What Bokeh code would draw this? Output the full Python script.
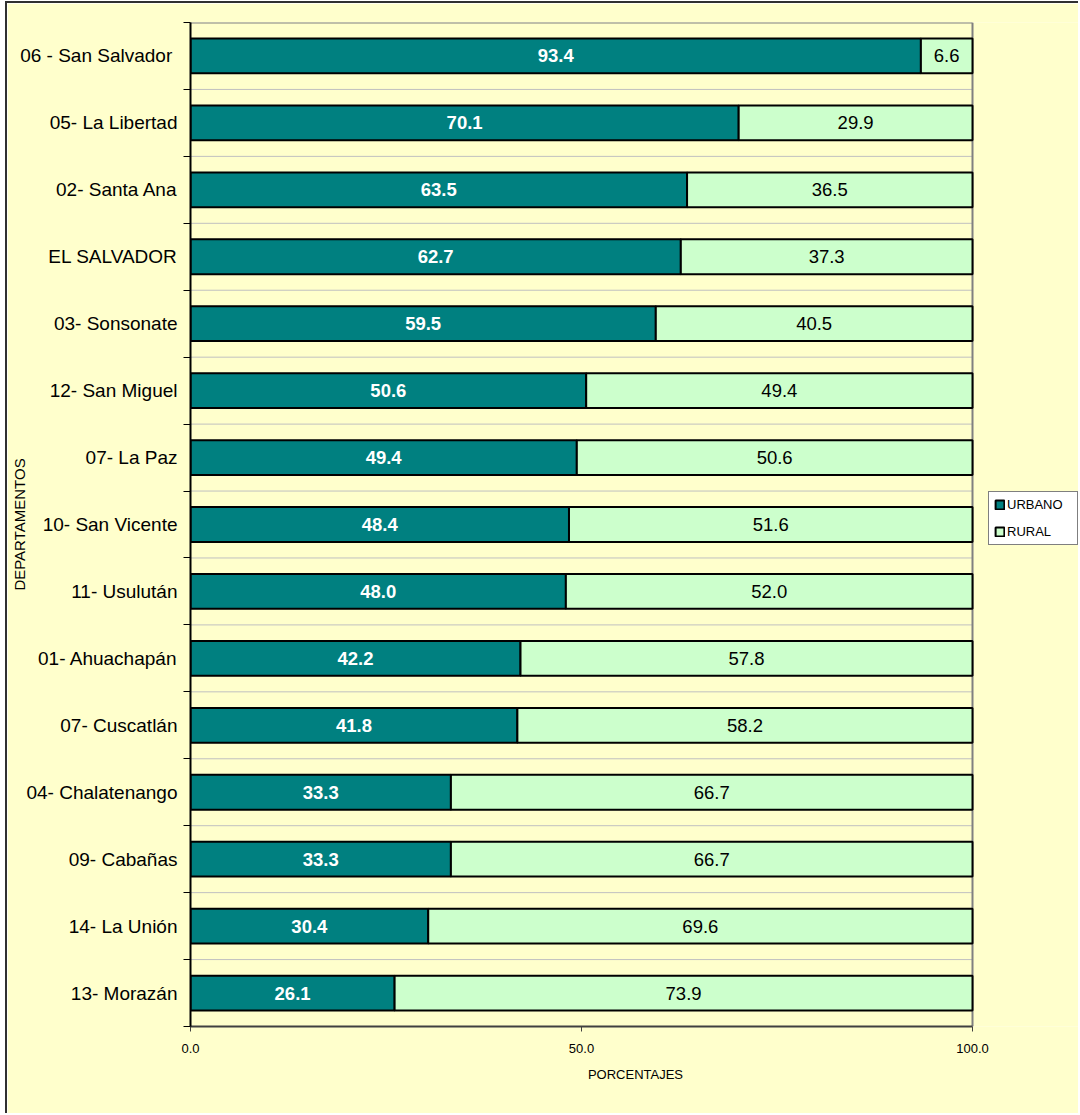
from bokeh.plotting import figure
from bokeh.models import (Range1d, FixedTicker, PrintfTickFormatter, Legend, LegendItem,
                          ColumnDataSource)
from bokeh.core.properties import value
from bokeh.embed import file_html
from bokeh.resources import INLINE

# Data (top to bottom as in the chart)
departamentos = ["06 - San  Salvador", "05- La Libertad", "02- Santa Ana", "EL SALVADOR",
                 "03- Sonsonate", "12- San Miguel", "07- La Paz", "10- San Vicente",
                 "11- Usulután", "01- Ahuachapán", "07- Cuscatlán", "04- Chalatenango",
                 "09- Cabañas", "14- La Unión", "13- Morazán"]
urbano = [93.4, 70.1, 63.5, 62.7, 59.5, 50.6, 49.4, 48.4, 48.0, 42.2, 41.8, 33.3, 33.3, 30.4, 26.1]
rural = [6.6, 29.9, 36.5, 37.3, 40.5, 49.4, 50.6, 51.6, 52.0, 57.8, 58.2, 66.7, 66.7, 69.6, 73.9]
x_ticks = [0, 50, 100]

FONT = "Liberation Sans"
n = len(departamentos)
ypos = [n - 1 - i + 0.5 for i in range(n)]
total = [u + r for u, r in zip(urbano, rural)]

src = ColumnDataSource(dict(
    y=ypos, urb=urbano, rur=rural, tot=total,
    urb_mid=[u / 2 for u in urbano],
    rur_mid=[u + r / 2 for u, r in zip(urbano, rural)],
    urb_txt=["%.1f" % u for u in urbano],
    rur_txt=["%.1f" % r for r in rural],
))

# layout: plot area (0..100) is 782 px wide; frame extends to the right to hold the legend
PLOT_W = 782
FRAME_W = 890
X_MAX = 100 * FRAME_W / PLOT_W

p = figure(width=1073, height=1112, output_backend="svg", toolbar_location=None,
           x_range=Range1d(0, X_MAX), y_range=Range1d(0, n),
           min_border_left=183, min_border_right=0, min_border_top=19, min_border_bottom=89)
p.background_fill_color = "#FFFFCC"
p.border_fill_color = "#FFFFCC"
p.outline_line_color = None
p.styles = {"border-left": "2px solid #303030", "border-top": "2px solid #303030",
            "margin-left": "5px", "margin-top": "1px"}

# grid lines at category boundaries and plot-area border (top/right)
bounds_y = list(range(1, n))
p.segment(x0=0, x1=100, y0=bounds_y, y1=bounds_y, line_color="#C0C0C0", line_width=1)
p.segment(x0=[0, 100], x1=[100, 100], y0=[n, 0], y1=[n, n], line_color="#808080", line_width=2)

r1 = p.hbar(y="y", left=0, right="urb", height=0.52, source=src,
            fill_color="#008080", line_color="black", line_width=2)
r2 = p.hbar(y="y", left="urb", right="tot", height=0.52, source=src,
            fill_color="#CCFFCC", line_color="black", line_width=2)

p.text(x="urb_mid", y="y", text="urb_txt", source=src, text_align="center",
       text_baseline="middle", text_color="white", text_font=value(FONT),
       text_font_size="18.5px", text_font_style="bold")
p.text(x="rur_mid", y="y", text="rur_txt", source=src, text_align="center",
       text_baseline="middle", text_color="black", text_font=value(FONT),
       text_font_size="18.5px")

p.xgrid.grid_line_color = None
p.ygrid.grid_line_color = None

# y axis
ya = p.yaxis[0]
ya.ticker = FixedTicker(ticks=ypos, minor_ticks=list(range(n + 1)))
ya.major_label_overrides = {y: d for y, d in zip(ypos, departamentos)}
ya.major_tick_line_color = None
ya.major_tick_out = 0
ya.major_tick_in = 0
ya.minor_tick_out = 7
ya.minor_tick_in = 0
ya.minor_tick_line_color = "black"
ya.minor_tick_line_width = 1
ya.axis_line_color = "black"
ya.axis_line_width = 2
ya.major_label_standoff = 6
ya.major_label_text_font = FONT
ya.major_label_text_font_size = "19px"
ya.major_label_text_color = "black"
ya.axis_label = "DEPARTAMENTOS"
ya.axis_label_text_font = FONT
ya.axis_label_text_font_size = "15px"
ya.axis_label_text_font_style = "normal"
ya.axis_label_text_color = "black"
ya.axis_label_standoff = -11

# x axis
xa = p.xaxis[0]
xa.bounds = (0, 100)
xa.ticker = FixedTicker(ticks=x_ticks, minor_ticks=[])
xa.formatter = PrintfTickFormatter(format="%.1f")
xa.major_tick_out = 5
xa.major_tick_in = 0
xa.major_tick_line_color = "#404040"
xa.minor_tick_line_color = None
xa.axis_line_color = "#404040"
xa.axis_line_width = 2
xa.major_label_standoff = 12
xa.major_label_text_font = FONT
xa.major_label_text_font_size = "13px"
xa.major_label_text_color = "black"
xa.axis_label = "PORCENTAJES"
xa.axis_label_text_font = FONT
xa.axis_label_text_font_size = "13px"
xa.axis_label_text_font_style = "normal"
xa.axis_label_text_color = "black"
xa.axis_label_standoff = 11

legend = Legend(items=[LegendItem(label="URBANO", renderers=[r1]),
                       LegendItem(label="RURAL", renderers=[r2])],
                location=(798, 481), orientation="vertical",
                background_fill_color="white", background_fill_alpha=1,
                border_line_color="black", border_line_width=1,
                padding=5, spacing=12, glyph_width=11, glyph_height=11,
                label_height=14, label_width=65, label_standoff=2,
                label_text_font=FONT, label_text_font_size="13px",
                label_text_color="black", margin=0)
p.add_layout(legend)

open("out.html", "w").write(file_html(p, INLINE))
